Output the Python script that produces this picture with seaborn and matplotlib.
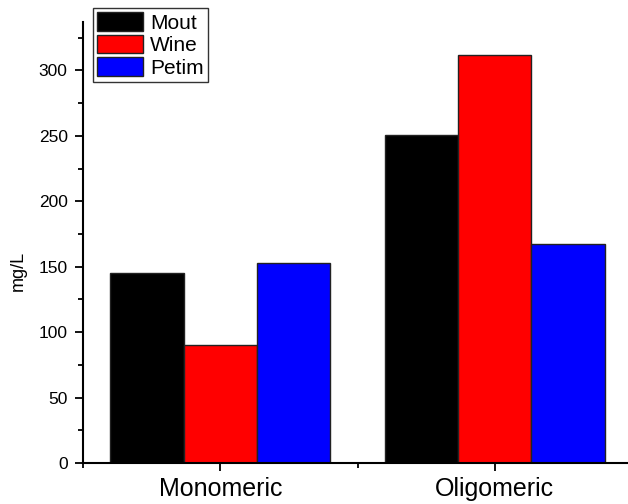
import pandas as pd
import seaborn as sns
import matplotlib.pyplot as plt
from matplotlib.ticker import MultipleLocator, FixedLocator

# Values
categories = ['Monomeric', 'Oligomeric']
series = ['Mout', 'Wine', 'Petim']
mout = [145, 251]
wine = [90, 312]
petim = [153, 167]
colors = ['#000000', '#ff0000', '#0000ff']

df = pd.DataFrame({
    'group': categories * 3,
    'sample': [s for s in series for _ in categories],
    'value': mout + wine + petim,
})

sns.set_style('ticks')
plt.rcParams['font.family'] = ['Liberation Sans', 'DejaVu Sans']
plt.rcParams['text.color'] = 'black'
plt.rcParams['axes.labelcolor'] = 'black'
plt.rcParams['xtick.color'] = 'black'
plt.rcParams['ytick.color'] = 'black'

fig = plt.figure(figsize=(6.28, 5.04), dpi=100)
ax = fig.add_axes([83 / 628, 1 - 463 / 504, 545 / 628, 441 / 504])

sns.barplot(data=df, x='group', y='value', hue='sample', order=categories,
            hue_order=series, palette=colors, width=0.8, edgecolor='#222222',
            linewidth=1.0, saturation=1, ax=ax)

ax.set_xlim(-0.5, 1.485)
ax.set_ylim(0, 337)
ax.set_xlabel('')
ax.set_ylabel('mg/L', fontsize=13)
ax.yaxis.set_label_coords(-0.103, 0.435)

ax.yaxis.set_major_locator(MultipleLocator(50))
ax.yaxis.set_minor_locator(MultipleLocator(25))
ax.xaxis.set_minor_locator(FixedLocator([-0.5, 0.5, 1.5]))

for side in ['top', 'right']:
    ax.spines[side].set_visible(False)
for side in ['left', 'bottom']:
    ax.spines[side].set_linewidth(1.5)
    ax.spines[side].set_color('black')

ax.tick_params(axis='both', which='major', direction='out', length=6, width=1.3,
               color='black', labelcolor='black')
ax.tick_params(axis='both', which='minor', direction='out', length=3.5, width=1.3,
               color='black')
ax.tick_params(axis='y', labelsize=12.5, pad=5)
ax.tick_params(axis='x', labelsize=18, pad=4)

leg = ax.legend(loc='upper left', bbox_to_anchor=(93 / 628, 1 - 8 / 504),
                bbox_transform=fig.transFigure, borderaxespad=0,
                fontsize=15, frameon=True, fancybox=False, handlelength=2.2,
                handleheight=1.0, labelspacing=0.1, handletextpad=0.35,
                borderpad=0.2)
leg.get_frame().set_edgecolor('black')
leg.get_frame().set_linewidth(1.0)
for t in leg.get_texts():
    t.set_color('black')

fig.savefig('out.png', dpi=100)
